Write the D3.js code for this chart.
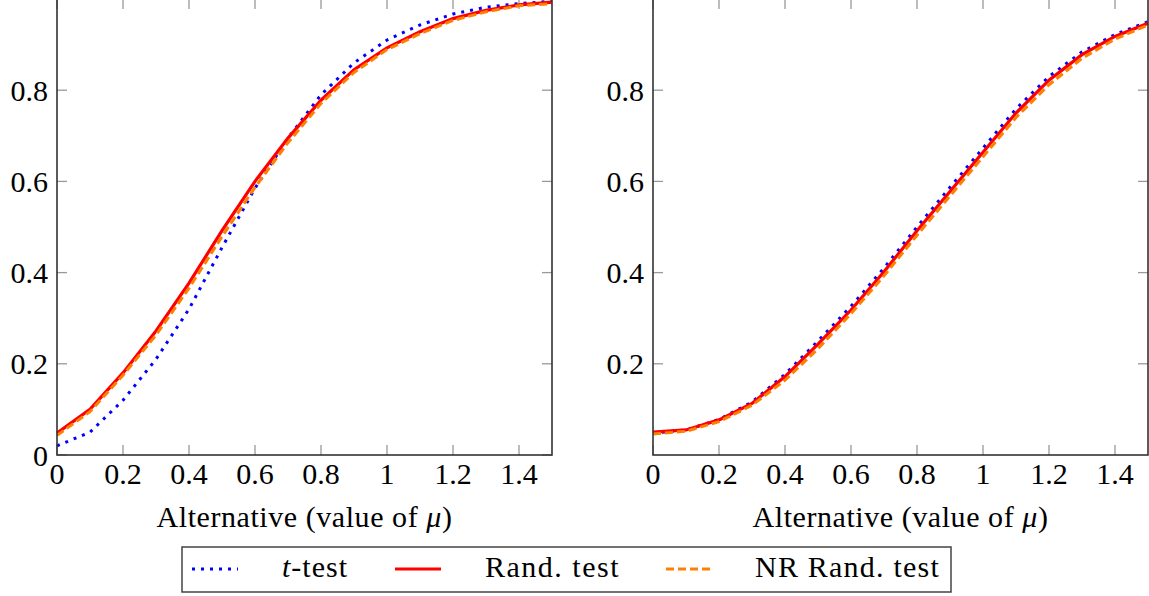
<!DOCTYPE html>
<html>
<head>
<meta charset="utf-8">
<script src="https://cdnjs.cloudflare.com/ajax/libs/d3/7.8.5/d3.min.js"></script>
<style>
  body { margin: 0; background: #fff; }
</style>
</head>
<body>
<div id="chart"></div>
<script>
// values
var mu = [0, 0.1, 0.2, 0.3, 0.4, 0.5, 0.6, 0.7, 0.8, 0.9, 1.0, 1.1, 1.2, 1.3, 1.4, 1.5];

var leftTTest = [0.020, 0.050, 0.120, 0.210, 0.320, 0.455, 0.585, 0.695, 0.790, 0.860, 0.910, 0.943, 0.967, 0.982, 0.990, 0.995];
var leftRand  = [0.048, 0.100, 0.180, 0.272, 0.377, 0.492, 0.600, 0.695, 0.778, 0.845, 0.893, 0.928, 0.957, 0.975, 0.987, 0.993];
var leftNR    = [0.043, 0.095, 0.175, 0.263, 0.366, 0.479, 0.587, 0.685, 0.771, 0.839, 0.889, 0.924, 0.953, 0.972, 0.985, 0.990];

var rightTTest = [0.048, 0.055, 0.078, 0.116, 0.177, 0.250, 0.326, 0.410, 0.500, 0.587, 0.673, 0.759, 0.830, 0.884, 0.922, 0.950];
var rightRand  = [0.050, 0.055, 0.077, 0.113, 0.172, 0.243, 0.318, 0.402, 0.492, 0.578, 0.664, 0.750, 0.822, 0.878, 0.918, 0.947];
var rightNR    = [0.046, 0.052, 0.073, 0.109, 0.164, 0.233, 0.310, 0.393, 0.482, 0.568, 0.654, 0.740, 0.812, 0.870, 0.912, 0.943];

var xTicks = [0, 0.2, 0.4, 0.6, 0.8, 1, 1.2, 1.4];
var yTicksLeft = [0, 0.2, 0.4, 0.6, 0.8];
var yTicksRight = [0.2, 0.4, 0.6, 0.8];

var seriesNames = ["t-test", "Rand. test", "NR Rand. test"];
var seriesColors = ["#0000ff", "#ff0000", "#ff8000"];
var seriesDash = ["3,6", null, "8,4"];

var svgWidth = 1149, svgHeight = 596;
var svg = d3.select("#chart").append("svg")
  .attr("width", svgWidth)
  .attr("height", svgHeight);

var panelH = 456, panelW = 495, panelTop = -1;
var fontSize = 30;
var serif = "'Liberation Serif'";

function fmt(v) { return v === 0 ? "0" : (v === 1 ? "1" : String(v)); }

// stretch word texts a little so their widths follow the reference (Computer Modern is wider)
function fitWidth(sel, target) {
  var node = sel.node();
  var w = node.getComputedTextLength();
  var n = node.textContent.length;
  if (n > 1) sel.attr("letter-spacing", ((target - w) / n).toFixed(2));
}

function addText(parent) {
  return parent.append("text").style("font-family", serif).attr("font-size", fontSize).attr("fill", "#000");
}

function drawPanel(left, yTicks, series) {
  var x = d3.scaleLinear().domain([0, 1.5]).range([0, panelW]);
  var y = d3.scaleLinear().domain([0, 1]).range([panelH, 0]);
  var g = svg.append("g").attr("transform", "translate(" + left + "," + panelTop + ")");

  // ticks inside the box, on all four sides
  var tickLen = 10;
  xTicks.forEach(function(t) {
    g.append("line").attr("x1", x(t)).attr("x2", x(t)).attr("y1", panelH).attr("y2", panelH - tickLen)
      .attr("stroke", "#999").attr("stroke-width", 1.3);
    g.append("line").attr("x1", x(t)).attr("x2", x(t)).attr("y1", 0).attr("y2", tickLen)
      .attr("stroke", "#999").attr("stroke-width", 1.3);
    addText(g).attr("x", x(t)).attr("y", panelH + 29)
      .attr("text-anchor", "middle").text(fmt(t));
  });
  yTicks.forEach(function(t) {
    g.append("line").attr("x1", 0).attr("x2", tickLen).attr("y1", y(t)).attr("y2", y(t))
      .attr("stroke", "#999").attr("stroke-width", 1.3);
    g.append("line").attr("x1", panelW).attr("x2", panelW - tickLen).attr("y1", y(t)).attr("y2", y(t))
      .attr("stroke", "#999").attr("stroke-width", 1.3);
    addText(g).attr("x", -9).attr("y", y(t)).attr("dy", "0.35em")
      .attr("text-anchor", "end").text(fmt(t));
  });

  var line = d3.line()
    .x(function(d) { return x(d[0]); })
    .y(function(d) { return y(d[1]); });

  series.forEach(function(vals, i) {
    g.append("path")
      .datum(mu.map(function(m, j) { return [m, vals[j]]; }))
      .attr("d", line)
      .attr("fill", "none")
      .attr("stroke", seriesColors[i])
      .attr("stroke-width", i === 1 ? 3.2 : 3)
      .attr("stroke-dasharray", seriesDash[i]);
  });

  g.append("rect").attr("x", 0).attr("y", 0).attr("width", panelW).attr("height", panelH)
    .attr("fill", "none").attr("stroke", "#333").attr("stroke-width", 1.6);

  var label = addText(g).attr("x", panelW / 2).attr("y", panelH + 72)
    .attr("text-anchor", "middle");
  label.append("tspan").text("Alternative (value of ");
  label.append("tspan").attr("font-style", "italic").text("\u03bc");
  label.append("tspan").text(")");
  fitWidth(label, 296);
}

drawPanel(57, yTicksLeft, [leftTTest, leftRand, leftNR]);
drawPanel(653, yTicksRight, [rightTTest, rightRand, rightNR]);

// legend
var legend = svg.append("g");
legend.append("rect").attr("x", 182).attr("y", 547).attr("width", 769).attr("height", 45)
  .attr("fill", "#fff").attr("stroke", "#444").attr("stroke-width", 1.5);
var sampleX = [192, 395, 666];
var textX = [282, 485, 755];
var textW = [66, 135, 185];
seriesNames.forEach(function(name, i) {
  legend.append("line").attr("x1", sampleX[i]).attr("x2", sampleX[i] + 46)
    .attr("y1", 569).attr("y2", 569)
    .attr("stroke", seriesColors[i]).attr("stroke-width", i === 1 ? 3.2 : 3)
    .attr("stroke-dasharray", seriesDash[i]);
  var t = addText(legend).attr("x", textX[i]).attr("y", 577);
  if (name === "t-test") {
    t.append("tspan").attr("font-style", "italic").text("t");
    t.append("tspan").text("-test");
  } else {
    t.text(name);
  }
  fitWidth(t, textW[i]);
});
</script>
</body>
</html>
